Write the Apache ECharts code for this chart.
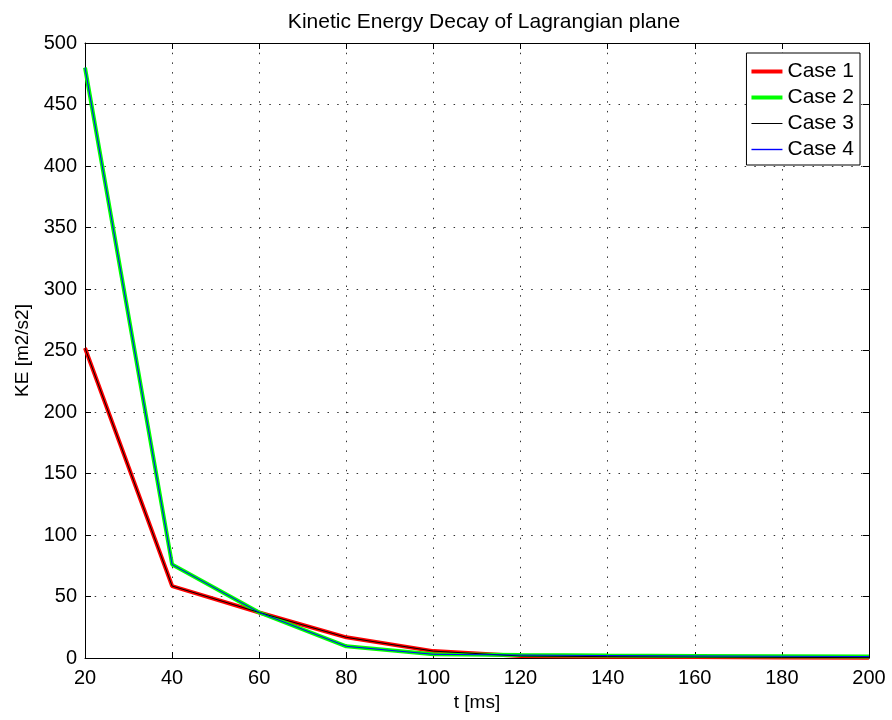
<!DOCTYPE html>
<html><head><meta charset="utf-8">
<script src="https://cdn.jsdelivr.net/npm/echarts@6/dist/echarts.min.js"></script>
<style>html,body{margin:0;padding:0;background:#fff}#c{width:892px;height:720px}</style>
</head><body><div id="c"></div>
<script>
var tValues = [20, 40, 60, 80, 100, 120, 140, 160, 180, 200];
var case1 = [252, 58.5, 37, 16.8, 5.6, 1.6, 1.1, 0.8, 0.5, 0.3];
var case2 = [480, 76, 37, 9.5, 3.0, 2.4, 2.0, 1.7, 1.4, 1.2];
var case3 = [252, 58.5, 37, 16.8, 5.6, 1.6, 1.1, 0.8, 0.5, 0.3];
var case4 = [480, 76, 37, 9.5, 3.0, 2.4, 2.0, 1.7, 1.4, 1.2];
var seriesNames = ['Case 1', 'Case 2', 'Case 3', 'Case 4'];
var seriesColors = ['#ff0000', '#00ff00', '#000000', '#0000ff'];
var seriesWidths = [4, 4, 1, 1];
var legendWidths = [4, 4, 1, 1.4];
var xTicks = [20, 40, 60, 80, 100, 120, 140, 160, 180, 200];
var yTicks = [0, 50, 100, 150, 200, 250, 300, 350, 400, 450, 500];

function pairs(v){ return tValues.map(function(t,i){ return [t, v[i]]; }); }
var allData = [case1, case2, case3, case4];
var font = 'Liberation Sans, Arial, sans-serif';
var chart = echarts.init(document.getElementById('c'));
var axisCommon = {
  axisLine: {show: true, onZero: false, lineStyle: {color: '#000', width: 1}},
  axisTick: {show: true, inside: true, length: 6, lineStyle: {color: '#000'}}
};
var gridDots = {show: true, lineStyle: {type: [1.5, 8.2], color: '#333', width: 1}};
chart.setOption({
  animation: false,
  backgroundColor: '#fff',
  title: {text: 'Kinetic Energy Decay of Lagrangian plane', left: 479, textAlign: 'center', top: 7,
    textStyle: {fontFamily: font, fontSize: 21, fontWeight: 'normal', color: '#000'}},
  grid: {left: 85, right: 23, top: 43, bottom: 62, containLabel: false},
  legend: {
    orient: 'vertical', right: 32, top: 53,
    data: seriesNames.map(function(n, i){
      return {name: n, itemStyle: {opacity: 0, color: seriesColors[i]}, lineStyle: {color: seriesColors[i], width: legendWidths[i]}};
    }),
    itemWidth: 31, itemHeight: 14, itemGap: 5,
    backgroundColor: '#fff', borderColor: '#000', borderWidth: 1,
    padding: [8, 6, 5, 3],
    textStyle: {fontFamily: font, fontSize: 21, color: '#000'}
  },
  xAxis: [
    Object.assign({type: 'value', min: 20, max: 200, interval: 20, position: 'bottom',
      axisLabel: {fontFamily: font, fontSize: 20, color: '#000', margin: 10},
      name: 't [ms]', nameLocation: 'middle', nameGap: 33,
      nameTextStyle: {fontFamily: font, fontSize: 19, color: '#000'},
      splitLine: gridDots}, axisCommon),
    Object.assign({type: 'value', min: 20, max: 200, interval: 20, position: 'top',
      axisLabel: {show: false}, splitLine: {show: false}}, axisCommon)
  ],
  yAxis: [
    Object.assign({type: 'value', min: 0, max: 500, interval: 50, position: 'left',
      axisLabel: {fontFamily: font, fontSize: 20, color: '#000', margin: 8},
      name: 'KE [m2/s2]', nameLocation: 'middle', nameGap: 53, nameRotate: 90,
      nameTextStyle: {fontFamily: font, fontSize: 19, color: '#000'},
      splitLine: gridDots}, axisCommon),
    Object.assign({type: 'value', min: 0, max: 500, interval: 50, position: 'right',
      axisLabel: {show: false}, splitLine: {show: false}}, axisCommon)
  ],
  series: seriesNames.map(function(n, i){
    return {name: n, type: 'line', data: pairs(allData[i]), symbol: 'none',
      lineStyle: {color: seriesColors[i], width: seriesWidths[i]},
      itemStyle: {color: seriesColors[i]}, z: seriesWidths[i] > 1 ? 2 : 3};
  })
});
</script></body></html>
